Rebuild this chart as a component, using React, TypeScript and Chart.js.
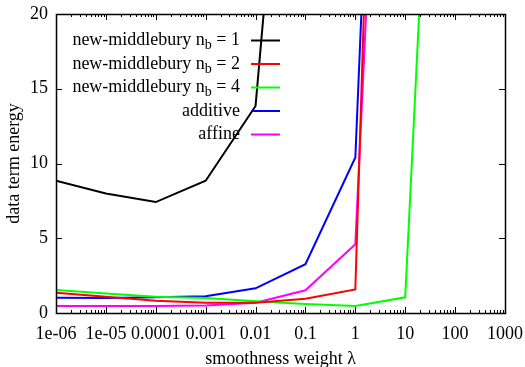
import React, { useEffect, useRef } from "react";
import { Chart, registerables } from "chart.js";

Chart.register(...registerables);

const lambdas = [1e-6, 1e-5, 1e-4, 1e-3, 1e-2, 1e-1, 1, 10, 100];
const xTickValues = [1e-6, 1e-5, 1e-4, 1e-3, 1e-2, 1e-1, 1, 10, 100, 1000];
const xTickLabels = ["1e-06", "1e-05", "0.0001", "0.001", "0.01", "0.1", "1", "10", "100", "1000"];
const yTickValues = [0, 5, 10, 15, 20];

const nb1 = [8.85, 8.0, 7.42, 8.85, 13.85, 52, null, null, null];
const nb2 = [1.36, 1.09, 0.82, 0.69, 0.68, 0.96, 1.58, 110, null];
const nb4 = [1.54, 1.3, 1.09, 1.0, 0.78, 0.6, 0.47, 1.05, 69];
const additive = [1.02, 1.0, 1.05, 1.12, 1.65, 3.26, 10.4, 90, null];
const affine = [0.47, 0.47, 0.47, 0.5, 0.69, 1.52, 4.6, 76, null];

const seriesNames = ["new-middlebury n_b = 1", "new-middlebury n_b = 2", "new-middlebury n_b = 4", "additive", "affine"];
const seriesColors = ["#000000", "#ff0000", "#00ff00", "#0000ff", "#ff00ff"];
const seriesValues = [nb1, nb2, nb4, additive, affine];

const FONT = "'Liberation Serif', 'Times New Roman', serif";
const FS = 18;

const framePlugin = {
  id: "frame",
  afterDatasetsDraw(chart: any) {
    const { ctx, chartArea: a, scales } = chart;
    const xs = scales.x;
    const ys = scales.y;
    ctx.save();
    ctx.strokeStyle = "#000";
    ctx.lineWidth = 1;
    ctx.beginPath();
    for (let d = -6; d <= 3; d++) {
      const v = Math.pow(10, d);
      const px = Math.round(xs.getPixelForValue(v)) + 0.5;
      ctx.moveTo(px, a.bottom);
      ctx.lineTo(px, a.bottom - 6);
      ctx.moveTo(px, a.top);
      ctx.lineTo(px, a.top + 6);
      if (d < 3) {
        for (let m = 2; m <= 9; m++) {
          const mp = Math.round(xs.getPixelForValue(m * v)) + 0.5;
          ctx.moveTo(mp, a.bottom);
          ctx.lineTo(mp, a.bottom - 3);
          ctx.moveTo(mp, a.top);
          ctx.lineTo(mp, a.top + 3);
        }
      }
    }
    for (const v of yTickValues) {
      const py = Math.round(ys.getPixelForValue(v)) + 0.5;
      ctx.moveTo(a.left, py);
      ctx.lineTo(a.left + 6, py);
      ctx.moveTo(a.right, py);
      ctx.lineTo(a.right - 6, py);
    }
    ctx.stroke();
    ctx.lineWidth = 1.5;
    ctx.strokeRect(Math.round(a.left) + 0.5, Math.round(a.top) + 0.5, Math.round(a.right - a.left), Math.round(a.bottom - a.top));

    // legend
    const rightText = 240;
    const lineX0 = 251;
    const lineX1 = 280;
    const y0 = 40.5;
    const dy = 23.5;
    ctx.textBaseline = "middle";
    seriesNames.forEach((name, i) => {
      const y = y0 + i * dy;
      const parts = name.split("_b");
      ctx.fillStyle = "#000";
      if (parts.length === 2) {
        const sub = "b";
        const subFont = `${Math.round(FS * 0.75)}px ${FONT}`;
        ctx.font = `${FS}px ${FONT}`;
        const w1 = ctx.measureText(parts[0]).width;
        const w3 = ctx.measureText(parts[1]).width;
        ctx.font = subFont;
        const w2 = ctx.measureText(sub).width;
        let x = rightText - (w1 + w2 + w3);
        ctx.textAlign = "left";
        ctx.font = `${FS}px ${FONT}`;
        ctx.fillText(parts[0], x, y);
        x += w1;
        ctx.font = subFont;
        ctx.fillText(sub, x, y + 5);
        x += w2;
        ctx.font = `${FS}px ${FONT}`;
        ctx.fillText(parts[1], x, y);
      } else {
        ctx.font = `${FS}px ${FONT}`;
        ctx.textAlign = "right";
        ctx.fillText(name, rightText, y);
      }
      ctx.strokeStyle = seriesColors[i];
      ctx.lineWidth = 2;
      ctx.beginPath();
      ctx.moveTo(lineX0, y);
      ctx.lineTo(lineX1, y);
      ctx.stroke();
    });

    // axis titles
    ctx.fillStyle = "#000";
    ctx.font = `${FS}px ${FONT}`;
    ctx.textAlign = "center";
    ctx.textBaseline = "middle";
    ctx.fillText("smoothness weight λ", (a.left + a.right) / 2, 359);
    ctx.save();
    ctx.translate(14, (a.top + a.bottom) / 2);
    ctx.rotate(-Math.PI / 2);
    ctx.fillText("data term energy", 0, 0);
    ctx.restore();
    ctx.restore();
  },
};

export default function App() {
  const ref = useRef<HTMLCanvasElement>(null);
  useEffect(() => {
    if (!ref.current) return;
    const chart = new Chart(ref.current, {
      type: "line",
      data: {
        labels: lambdas,
        datasets: seriesValues.map((vals, i) => ({
          label: seriesNames[i],
          data: lambdas.map((x, j) => ({ x, y: vals[j] as any })),
          borderColor: seriesColors[i],
          backgroundColor: seriesColors[i],
          borderWidth: 2,
          pointRadius: 0,
          tension: 0,
          spanGaps: false,
        })),
      },
      options: {
        animation: false,
        responsive: false,
        maintainAspectRatio: false,
        layout: { padding: { top: 14, right: 20, left: 0, bottom: 0 } },
        plugins: { legend: { display: false }, tooltip: { enabled: false } },
        scales: {
          x: {
            type: "logarithmic",
            min: 1e-6,
            max: 1000,
            afterBuildTicks(scale: any) {
              scale.ticks = xTickValues.map((v) => ({ value: v }));
            },
            afterFit(scale: any) {
              scale.height = 54;
              scale.paddingLeft = 0;
              scale.paddingRight = 0;
            },
            grid: { display: false, drawTicks: false },
            border: { display: false },
            ticks: {
              autoSkip: false,
              maxRotation: 0,
              padding: 10,
              color: "#000",
              font: { family: FONT, size: FS },
              callback: (v: any) => {
                const i = xTickValues.findIndex((t) => Math.abs(Math.log10(t) - Math.log10(v)) < 1e-6);
                return i >= 0 ? xTickLabels[i] : "";
              },
            },
          },
          y: {
            min: 0,
            max: 20,
            afterBuildTicks(scale: any) {
              scale.ticks = yTickValues.map((v) => ({ value: v }));
            },
            afterFit(scale: any) {
              scale.width = 56;
              scale.paddingTop = 0;
              scale.paddingBottom = 0;
            },
            grid: { display: false, drawTicks: false },
            border: { display: false },
            ticks: {
              padding: 8,
              color: "#000",
              font: { family: FONT, size: FS },
            },
          },
        },
      },
      plugins: [framePlugin],
    });
    return () => chart.destroy();
  }, []);
  return (
    <div style={{ position: "fixed", left: 0, top: 0, width: 525, height: 367, background: "#fff" }}>
      <canvas ref={ref} width={525} height={367} style={{ width: 525, height: 367 }} />
    </div>
  );
}
